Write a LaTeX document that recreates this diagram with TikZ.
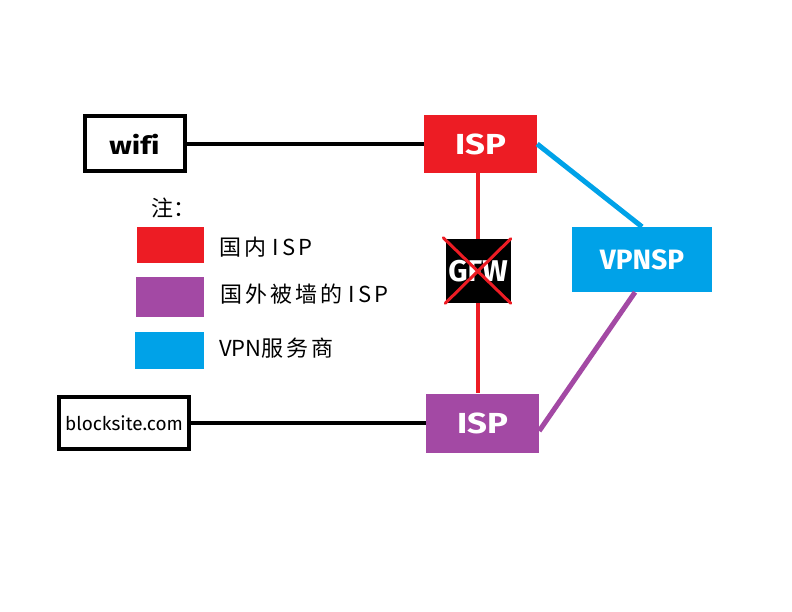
\documentclass[tikz,border=0pt]{standalone}
\usepackage{fontspec}
\setmainfont{Fira Sans}
\newfontfamily\cjk{Noto Sans CJK SC}
\definecolor{ispred}{HTML}{ED1C24}
\definecolor{isppurple}{HTML}{A349A4}
\definecolor{vpnblue}{HTML}{00A2E8}
\tikzset{
  framebox/.style={draw=black, line width=4pt, fill=white, inner sep=0pt},
  colbox/.style={inner sep=0pt, text=white, font=\bfseries},
  swatch/.style={inner sep=0pt},
  legtext/.style={anchor=west, inner sep=0pt, font=\cjk\fontsize{22}{24}\selectfont},
  link/.style={line width=4pt},
}
\begin{document}
\begin{tikzpicture}[x=1pt,y=-1pt]
\useasboundingbox (0,0) rectangle (792,612);
% main nodes
\node[framebox, minimum width=100pt, minimum height=55pt] (wifi) at (134.5,144)
  {\fontsize{25}{26}\selectfont\bfseries\scalebox{1.2}[1]{wif\kern0pt i}};
\node[framebox, minimum width=130pt, minimum height=52pt] (block) at (124,423)
  {\fontsize{19}{21}\selectfont blocksite.com};
\node[colbox, fill=ispred, minimum width=113pt, minimum height=58pt] (isp1) at (480.5,144)
  {\fontsize{29}{30}\selectfont\scalebox{1.2}[1]{ISP}};
\node[colbox, fill=isppurple, minimum width=113pt, minimum height=59pt] (isp2) at (482.5,423)
  {\fontsize{29}{30}\selectfont\scalebox{1.2}[1]{ISP}};
\node[colbox, fill=vpnblue, minimum width=140pt, minimum height=65pt] (vpn) at (642,259.5)
  {\fontsize{28}{30}\selectfont VPNSP};
\node[colbox, fill=black, minimum width=65pt, minimum height=64pt] (gfw) at (478,271)
  {\fontsize{30}{30}\selectfont GFW};
% cross over GFW
\draw[ispred, line width=3pt, line cap=round] (gfw.north west) ++(-2,-1) coordinate (x1) -- (gfw.south east) coordinate (x2);
\draw[ispred, line width=3pt, line cap=round] (gfw.north east) coordinate (x3) -- (gfw.south west) coordinate (x4);
% connectors
\draw[link, black] (wifi.east) -- (isp1.west);
\draw[link, black] (block.east) -- (isp2.west);
\draw[link, ispred] (isp1.south -| gfw.center) -- (gfw.north);
\draw[link, ispred] (gfw.south) -- (isp2.north -| gfw.center);
\draw[line width=5pt, vpnblue] (isp1.east) -- (vpn.north);
\draw[line width=5pt, isppurple] (isp2.-8.6) -- (vpn.-102);
% legend
\node[legtext] (note) at (151,208) {注：};
\node[swatch, fill=ispred, minimum width=67pt, minimum height=36pt] (sw1) at (170.5,245) {};
\node[swatch, fill=isppurple, minimum width=68pt, minimum height=40pt] (sw2) at (170,297) {};
\node[swatch, fill=vpnblue, minimum width=69pt, minimum height=37pt] (sw3) at (169.5,350.5) {};
\node[legtext] (t1) at (219,247) {国\hspace{3pt}内\hspace{6pt}I\hspace{4pt}S\hspace{3pt}P};
\node[legtext] (t2) at (220,294) {国\hspace{3pt}外\hspace{3pt}被\hspace{3pt}墙\hspace{3pt}的\hspace{6pt}I\hspace{4pt}S\hspace{3pt}P};
\node[legtext] (t3) at (219,348) {VPN服\hspace{3pt}务\hspace{3pt}商};
\end{tikzpicture}
\end{document}
